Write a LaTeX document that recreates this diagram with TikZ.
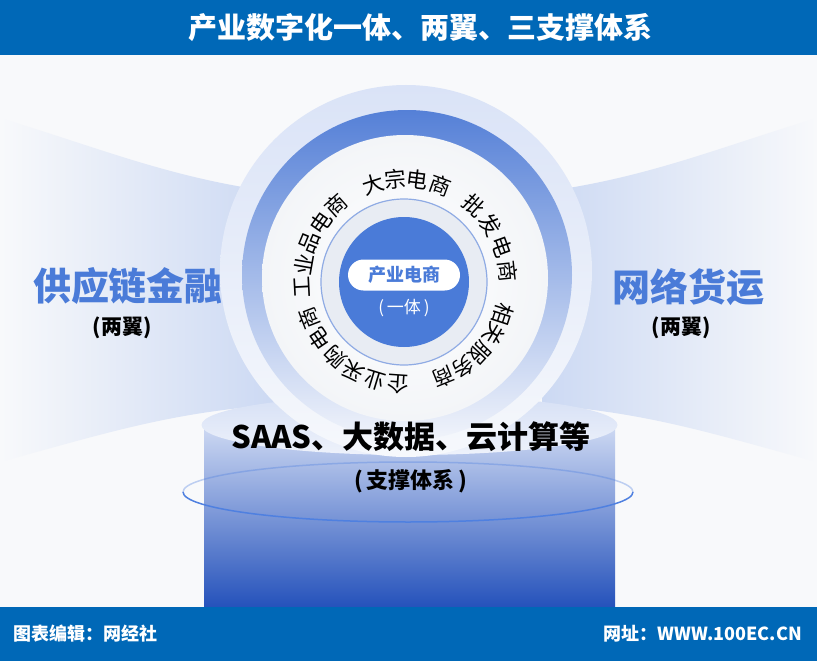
\documentclass[tikz,border=0pt]{standalone}
\usepackage{fontspec}
\newfontfamily\cjk{Noto Sans CJK SC}
\usetikzlibrary{calc}
\definecolor{barblue}{HTML}{0068B7}
\definecolor{accent}{HTML}{4A7BD8}
\definecolor{bg}{HTML}{F8F9FB}
\definecolor{wingc}{HTML}{CCD9F3}
\definecolor{cylA}{HTML}{CFDAF3}
\definecolor{cylB}{HTML}{92ACE6}
\definecolor{cylC}{HTML}{2552BB}
\definecolor{faceA}{HTML}{D6E0F5}
\definecolor{faceB}{HTML}{EEF2FB}
\definecolor{haloA}{HTML}{DAE3F7}
\definecolor{haloB}{HTML}{F6F8FC}
\definecolor{ringA}{HTML}{5580D7}
\definecolor{ringB}{HTML}{8AA6E5}
\definecolor{ringC}{HTML}{F1F4FB}
\definecolor{diskc}{HTML}{F3F5F8}
\definecolor{innerc}{HTML}{E8ECF3}
\definecolor{thinline}{HTML}{8FABE4}
\definecolor{ellline}{HTML}{4F80E0}
\tikzset{
  txt/.style={inner sep=0pt, outer sep=0pt},
  ringtxt/.style={txt, font=\cjk\fontsize{21.5}{21.5}\selectfont, text=black},
  wingtitle/.style={txt, font=\cjk\bfseries\fontsize{38}{38}\selectfont, text=accent},
  wingsub/.style={txt, font=\cjk\bfseries\fontsize{21}{21}\selectfont, text=black},
  bartxt/.style={txt, font=\cjk\bfseries\fontsize{18}{18}\selectfont, text=white},
  ellarc/.style={draw=ellline, line width=1.5pt},
}
\begin{document}
\begin{tikzpicture}[x=1pt,y=1pt]
\useasboundingbox (0,0) rectangle (817,-661);
\fill[bg] (0,0) rectangle (817,-661);

% wings
\shade[left color=bg, right color=wingc]
  (0,-118) .. controls (100,-148) and (170,-178) .. (275,-192)
  -- (275,-405) .. controls (170,-412) and (100,-435) .. (0,-462) -- cycle;
\shade[right color=bg, left color=wingc]
  (817,-118) .. controls (717,-148) and (647,-178) .. (542,-192)
  -- (542,-405) .. controls (647,-412) and (717,-435) .. (817,-462) -- cycle;

% cylinder
\shade[top color=cylA, middle color=cylB, bottom color=cylC] (204,-425) rectangle (615,-607);
\shade[top color=faceA, bottom color=faceB] (409.5,-425) ellipse [x radius=208, y radius=30];

% circle layers
\shade[top color=haloA, bottom color=haloB] (406,-271) circle (186);
\shade[top color=ringA, middle color=ringB, bottom color=ringC] (407,-275) circle (165);
\shade[inner color=white, outer color=diskc] (405,-278) circle (143);
\fill[innerc] (404,-282) circle (83);
\draw[thinline, line width=1.2pt] (404,-282) circle (83);
\fill[accent] (404,-282) circle (65);

\node[txt, fill=white, rounded corners=15.5pt, minimum width=112pt, minimum height=31pt,
  text=accent, font=\cjk\bfseries\fontsize{18}{18}\selectfont] (core) at (404,-275) {产业电商};
\node[txt, text=white, font=\cjk\fontsize{17}{17}\selectfont] (coresub) at (404,-308) {(\,一体\,)};

% ring text
\coordinate (C) at (405,-282);
\foreach \c/\a [count=\i] in {工/183,业/170,品/157.5,电/145,商/132,
  大/108,宗/95.5,电/83,商/70,
  批/48,发/34,电/20,商/6,
  相/-18,关/-30.5,服/-43,务/-55.5,商/-68,
  企/-94,业/-107,采/-120,购/-133,电/-146,商/-159}
  \node[ringtxt, rotate=\a-90] (r\i) at ($(C)+(\a:103)$) {\c};

% support texts
\node[txt, font=\cjk\bfseries\fontsize{31}{31}\selectfont] (saas) at (411,-437) {SAAS、大数据、云计算等};
\node[txt, font=\cjk\bfseries\fontsize{22}{22}\selectfont] (saassub) at (411,-481) {(\,支撑体系\,)};

% thin ellipse ring
\coordinate (E) at (408,-492);
\draw[ellarc, opacity=0.35] ($(E)+(225,0)$) arc[start angle=0, end angle=180, x radius=225, y radius=30];
\draw[ellarc] ($(E)+(-225,0)$) arc[start angle=180, end angle=360, x radius=225, y radius=30];

% wing texts
\node[wingtitle] (lw) at (128,-286) {供应链金融};
\node[wingsub] (lws) at (122,-328) {(两翼)};
\node[wingtitle] (rw) at (688,-287) {网络货运};
\node[wingsub] (rws) at (681,-328) {(两翼)};

% bars
\fill[barblue] (0,0) rectangle (817,-55);
\node[txt, text=white, font=\cjk\bfseries\fontsize{29}{29}\selectfont] (title) at (420,-27.5) {产业数字化一体、两翼、三支撑体系};
\fill[barblue] (0,-607) rectangle (817,-661);
\node[bartxt, anchor=west] (fl) at (13,-634) {图表编辑：网经社};
\node[bartxt, anchor=east] (fr) at (802,-634) {网址：WWW.100EC.CN};
\end{tikzpicture}
\end{document}
